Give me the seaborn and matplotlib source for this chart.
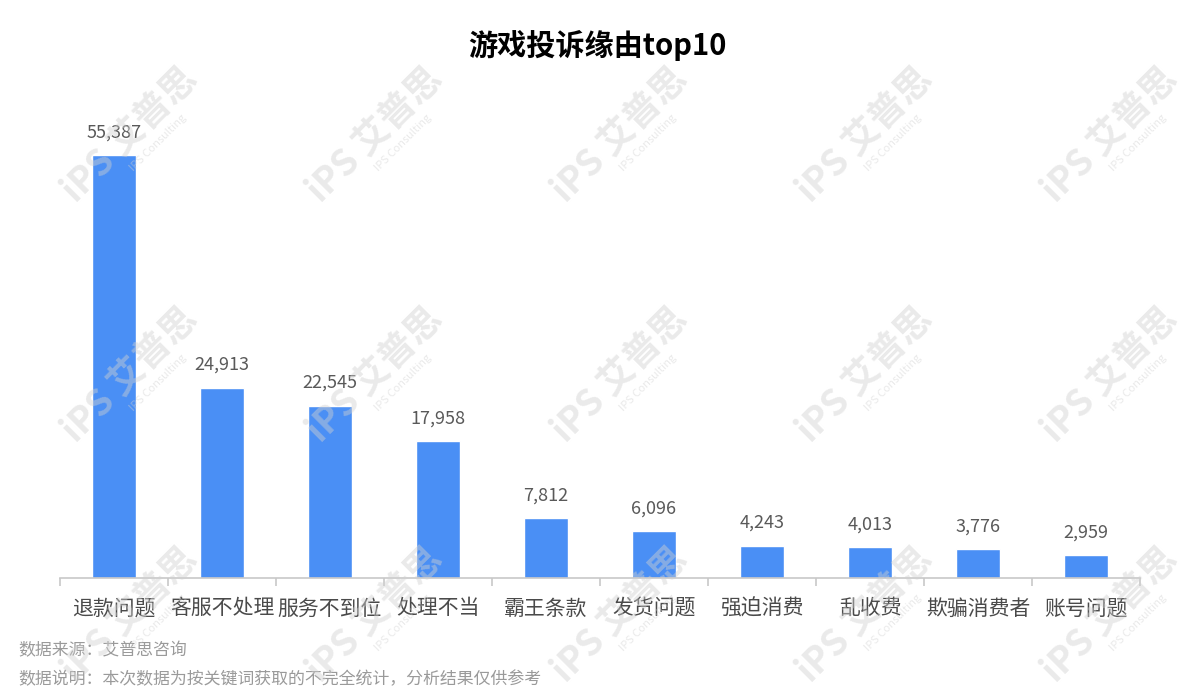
import pandas as pd
import seaborn as sns
import matplotlib.pyplot as plt

categories = ['退款问题', '客服不处理', '服务不到位', '处理不当', '霸王条款',
              '发货问题', '强迫消费', '乱收费', '欺骗消费者', '账号问题']
counts = [55387, 24913, 22545, 17958, 7812, 6096, 4243, 4013, 3776, 2959]
title = '游戏投诉缘由top10'
notes = ['数据来源：艾普思咨询', '数据说明：本次数据为按关键词获取的不完全统计，分析结果仅供参考']

df = pd.DataFrame({'reason': categories, 'count': counts})

sns.set_theme(style='white')
plt.rcParams['font.family'] = ['Noto Sans CJK SC', 'DejaVu Sans']

fig = plt.figure(figsize=(11.95, 7.0), dpi=100)
ax = fig.add_axes([60 / 1195, 1 - 578 / 700, 1080 / 1195, 478 / 700])

sns.barplot(data=df, x='reason', y='count', color='#4a8ff5', width=0.4,
            saturation=1, ax=ax)

for i, v in enumerate(counts):
    ax.text(i, v + 1800, f'{v:,}', ha='center', va='bottom', fontsize=13,
            color='#595959')

ax.set_xlim(-0.5, 9.5)
ax.set_ylim(0, 62600)
ax.set_xlabel('')
ax.set_ylabel('')
ax.set_yticks([])
for s in ['top', 'right', 'left']:
    ax.spines[s].set_visible(False)
ax.spines['bottom'].set_color('#c8c8c8')
ax.spines['bottom'].set_linewidth(1.2)

ax.set_xticks(range(len(categories)))
ax.set_xticklabels(categories, fontsize=15, color='#4a4a4a')
ax.tick_params(axis='x', which='major', length=0, pad=14)
ax.set_xticks([i - 0.5 for i in range(len(categories) + 1)], minor=True)
ax.tick_params(axis='x', which='minor', bottom=True, length=6, width=1.2,
               color='#c8c8c8', direction='out')

fig.text(597 / 1195, 1 - 45 / 700, title, ha='center', va='center',
         fontsize=21, fontweight='bold', color='black')
fig.text(18 / 1195, 1 - 650 / 700, notes[0], ha='left', va='center',
         fontsize=12.2, color='#9a9a9a')
fig.text(18 / 1195, 1 - 679 / 700, notes[1], ha='left', va='center',
         fontsize=12.2, color='#9a9a9a')

# watermark
for cx in [130, 375, 620, 865, 1110]:
    for cy in [135, 375, 615]:
        fig.text(cx / 1195, 1 - cy / 700, 'iPS 艾普思', ha='center', va='center',
                 rotation=45, fontsize=26, fontweight='bold', color='#d0d0d0',
                 alpha=0.45, zorder=10)
        fig.text((cx + 28) / 1195, 1 - (cy + 8) / 700, 'IPS Consulting',
                 ha='center', va='center', rotation=45, fontsize=8,
                 color='#d0d0d0', alpha=0.45, zorder=10)

fig.savefig('out.png', dpi=100)
